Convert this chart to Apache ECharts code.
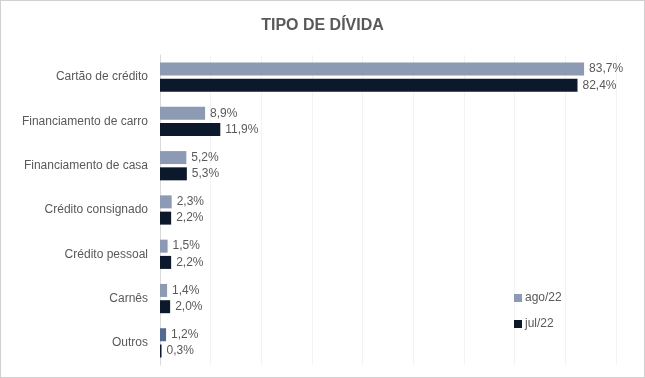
<!DOCTYPE html>
<html>
<head>
<meta charset="utf-8">
<script src="https://cdn.jsdelivr.net/npm/echarts@6/dist/echarts.min.js"></script>
<style>
  html, body { margin: 0; padding: 0; background: #fff; }
  #chart { width: 645px; height: 378px; box-sizing: border-box; border: 1px solid #d0d0d0; }
</style>
</head>
<body>
<div id="chart"></div>
<script>
// categorias de cima para baixo
const categorias = ['Cartão de crédito', 'Financiamento de carro', 'Financiamento de casa',
  'Crédito consignado', 'Crédito pessoal', 'Carnês', 'Outros']
const ago22 = [83.7, 8.9, 5.2, 2.3, 1.5, 1.4, 1.2]
const jul22 = [82.4, 11.9, 5.3, 2.2, 2.2, 2.0, 0.3]

const fmt = p => p.value.toFixed(1).replace('.', ',') + '%'
const txt = '#595959'
const font = 'Liberation Sans'

const chart = echarts.init(document.getElementById('chart'))

const label = {
  show: true, position: 'right', distance: 5,
  color: txt, fontSize: 12, fontFamily: font, formatter: fmt
}

chart.setOption({
  animation: false,
  title: {
    text: 'TIPO DE DÍVIDA', left: 'center', top: 12,
    textStyle: { color: txt, fontSize: 16, fontWeight: 'bold', fontFamily: font }
  },
  legend: {
    orient: 'vertical', left: 508, top: 286, itemGap: 14,
    itemWidth: 8, itemHeight: 8, icon: 'rect',
    textStyle: { color: txt, fontSize: 12, fontFamily: font, padding: [0, 0, 0, -2] },
    data: ['ago/22', 'jul/22']
  },
  grid: { left: 159, right: 28, top: 54, bottom: 12, containLabel: false },
  xAxis: {
    type: 'value', min: 0, max: 90, interval: 10,
    axisLabel: { show: false }, axisLine: { show: false }, axisTick: { show: false },
    splitLine: { lineStyle: { color: '#f3f3f3' } }
  },
  yAxis: {
    type: 'category', inverse: true, data: categorias,
    axisLine: { lineStyle: { color: '#d9d9d9' } },
    axisTick: { lineStyle: { color: '#d9d9d9' }, length: 5 },
    axisLabel: { color: txt, fontSize: 12, fontFamily: font, margin: 12 }
  },
  series: [
    {
      name: 'ago/22', type: 'bar', barWidth: 13, barGap: '25%',
      itemStyle: { color: '#8c9ab4' },
      label,
      data: ago22.map((v, i) => i === ago22.length - 1
        ? { value: v, itemStyle: { color: '#55688f' } } : v)
    },
    {
      name: 'jul/22', type: 'bar', barWidth: 13,
      itemStyle: { color: '#0c182b' },
      label,
      data: jul22
    }
  ]
})
</script>
</body>
</html>
